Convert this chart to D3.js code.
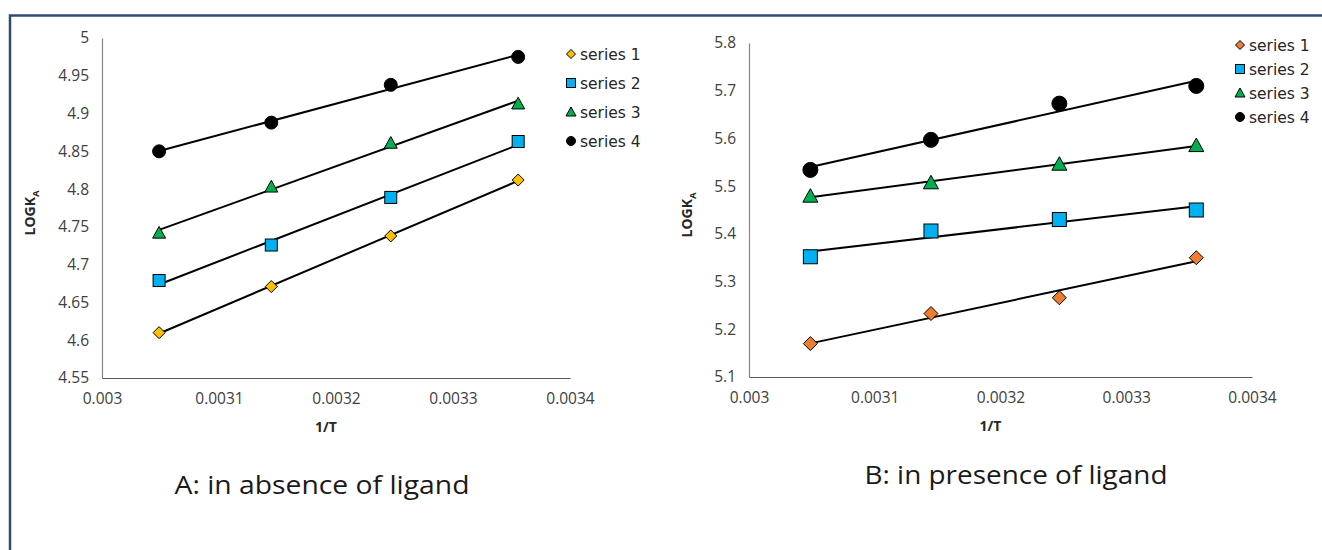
<!DOCTYPE html>
<html>
<head>
<meta charset="utf-8">
<script src="https://cdn.jsdelivr.net/npm/d3@7"></script>
<style>
  body { margin: 0; background: #fff; }
  svg { display: block; font-family: "Open Sans", "Noto Sans", sans-serif; }
</style>
</head>
<body>
<svg id="chart" width="1322" height="550"></svg>
<script>
// 1/T values (298-328 K) shared by both panels
const invT = [0.0030488, 0.0031447, 0.0032468, 0.0033557];
const xTicks = [0.003, 0.0031, 0.0032, 0.0033, 0.0034];
const seriesNames = ["series 1", "series 2", "series 3", "series 4"];

// panel A: in absence of ligand
const absS1 = [4.610, 4.671, 4.738, 4.812];
const absS2 = [4.679, 4.726, 4.789, 4.863];
const absS3 = [4.742, 4.803, 4.861, 4.913];
const absS4 = [4.850, 4.888, 4.938, 4.975];
const absTicks = [4.55, 4.6, 4.65, 4.7, 4.75, 4.8, 4.85, 4.9, 4.95, 5];

// panel B: in presence of ligand
const preS1 = [5.170, 5.233, 5.266, 5.350];
const preS2 = [5.352, 5.406, 5.430, 5.450];
const preS3 = [5.479, 5.507, 5.546, 5.585];
const preS4 = [5.534, 5.597, 5.673, 5.710];
const preTicks = [5.1, 5.2, 5.3, 5.4, 5.5, 5.6, 5.7, 5.8];

const svg = d3.select("#chart");

// frame around the figure
svg.append("path")
  .attr("d", "M10,550 L10,15.5 L1322,15.5")
  .style("fill", "none")
  .style("stroke", "#2f4b75")
  .style("stroke-width", 2.5);

// least squares trendline, like Excel's linear trendline
function fitLine(xs, ys) {
  const n = xs.length;
  const mx = d3.mean(xs), my = d3.mean(ys);
  let sxy = 0, sxx = 0;
  for (let i = 0; i < n; i++) {
    sxy += (xs[i] - mx) * (ys[i] - my);
    sxx += (xs[i] - mx) * (xs[i] - mx);
  }
  const b = sxy / sxx;
  const a = my - b * mx;
  const x0 = d3.min(xs), x1 = d3.max(xs);
  return [[x0, a + b * x0], [x1, a + b * x1]];
}

// draw one marker shape centred at 0,0
function marker(g, shape, size, fill) {
  let el;
  if (shape === "diamond") {
    const h = size / 2;
    el = g.append("path").attr("d", `M0,${-h}L${h},0L0,${h}L${-h},0Z`);
  } else if (shape === "square") {
    el = g.append("rect").attr("x", -size / 2).attr("y", -size / 2)
      .attr("width", size).attr("height", size);
  } else if (shape === "triangle") {
    const h = size / 2;
    el = g.append("path").attr("d", `M0,${-h}L${h},${h * 0.8}L${-h},${h * 0.8}Z`);
  } else {
    el = g.append("circle").attr("r", size / 2);
  }
  el.style("fill", fill).style("stroke", "#000").style("stroke-width", 1);
}

function drawPanel(cfg) {
  const x = d3.scaleLinear().domain([0.003, 0.0034]).range(cfg.xRange);
  const y = d3.scaleLinear().domain(cfg.yDomain).range(cfg.yRange);
  const g = svg.append("g");

  // y axis
  const yAxis = g.append("g")
    .attr("transform", `translate(${cfg.xRange[0]},0)`)
    .call(d3.axisLeft(y).tickValues(cfg.yTicks).tickSize(0).tickPadding(13)
      .tickFormat(d3.format("")));
  yAxis.select(".domain").style("stroke", "#868686").style("stroke-width", 1.2);
  yAxis.selectAll("text").style("font-size", "15.5px").style("fill", "#404040")
    .style("font-family", "'Open Sans', sans-serif");

  // x axis
  const xAxis = g.append("g")
    .attr("transform", `translate(0,${cfg.yRange[0]})`)
    .call(d3.axisBottom(x).tickValues(xTicks).tickSize(0).tickPadding(15)
      .tickFormat(d3.format("")));
  xAxis.select(".domain").style("stroke", "#595959").style("stroke-width", 1.2);
  xAxis.selectAll("text").style("font-size", "15.5px").style("fill", "#404040")
    .style("font-family", "'Open Sans', sans-serif");

  // axis titles
  g.append("text")
    .attr("x", (cfg.xRange[0] + cfg.xRange[1]) / 2 - 10)
    .attr("y", cfg.yRange[0] + 54)
    .attr("text-anchor", "middle")
    .style("font-size", "14px").style("font-weight", "bold").style("fill", "#262626")
    .text("1/T");

  const yl = g.append("text")
    .attr("transform", `translate(${cfg.yLabelX},${(cfg.yRange[0] + cfg.yRange[1]) / 2 + 5}) rotate(-90)`)
    .attr("text-anchor", "middle")
    .style("font-size", "14px").style("font-weight", "bold").style("fill", "#262626");
  yl.append("tspan").text("LOGK");
  yl.append("tspan").attr("dy", 4).style("font-size", "9.5px").text("A");

  // trendlines
  cfg.series.forEach((s) => {
    const pts = fitLine(invT, s.values);
    g.append("line")
      .attr("x1", x(pts[0][0])).attr("y1", y(pts[0][1]))
      .attr("x2", x(pts[1][0])).attr("y2", y(pts[1][1]))
      .style("stroke", "#000").style("stroke-width", 2);
  });

  // markers
  cfg.series.forEach((s) => {
    s.values.forEach((v, i) => {
      const m = g.append("g").attr("transform", `translate(${x(invT[i])},${y(v)})`);
      marker(m, s.shape, s.size, s.color);
    });
  });

  // legend
  cfg.series.forEach((s, i) => {
    const ly = cfg.legendY[0] + i * cfg.legendY[1];
    const m = g.append("g").attr("transform", `translate(${cfg.legendX},${ly})`);
    marker(m, s.shape, s.shape === "triangle" ? 10 : 9, s.color);
    g.append("text")
      .attr("x", cfg.legendX + 9).attr("y", ly + 5.5)
      .style("font-size", "15.5px").style("fill", "#262626")
      .style("font-family", "'DejaVu Sans', sans-serif")
      .text(seriesNames[i]);
  });

  // panel caption
  g.append("text")
    .attr("x", cfg.captionX).attr("y", cfg.captionY)
    .attr("text-anchor", "middle")
    .attr("textLength", cfg.captionW)
    .attr("lengthAdjust", "spacingAndGlyphs")
    .style("font-size", "26px").style("fill", "#1a1a1a")
    .text(cfg.caption);
}

drawPanel({
  xRange: [102, 570],
  yDomain: [4.55, 5],
  yRange: [378, 38],
  yTicks: absTicks,
  yLabelX: 35,
  legendX: 571,
  legendY: [54, 29],
  captionX: 322,
  captionY: 494,
  captionW: 295,
  caption: "A: in absence of ligand",
  series: [
    { values: absS1, shape: "diamond", size: 12, color: "#ffc000" },
    { values: absS2, shape: "square", size: 12, color: "#00b0f0" },
    { values: absS3, shape: "triangle", size: 13, color: "#00b050" },
    { values: absS4, shape: "circle", size: 13, color: "#000" }
  ]
});

drawPanel({
  xRange: [749, 1252],
  yDomain: [5.1, 5.8],
  yRange: [377, 43],
  yTicks: preTicks,
  yLabelX: 692,
  legendX: 1240,
  legendY: [45, 24],
  captionX: 1016,
  captionY: 484,
  captionW: 303,
  caption: "B: in presence of ligand",
  series: [
    { values: preS1, shape: "diamond", size: 14, color: "#ed7d31" },
    { values: preS2, shape: "square", size: 14, color: "#00b0f0" },
    { values: preS3, shape: "triangle", size: 15, color: "#00b050" },
    { values: preS4, shape: "circle", size: 15, color: "#000" }
  ]
});
</script>
</body>
</html>
